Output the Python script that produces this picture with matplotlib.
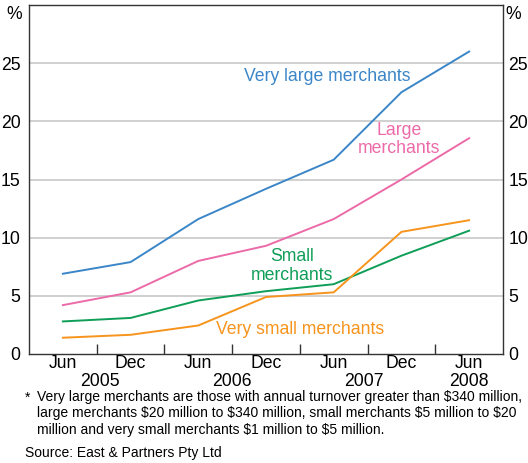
import matplotlib
matplotlib.use('Agg')
import matplotlib.pyplot as plt
import matplotlib.transforms as mtransforms

plt.rcParams['font.family'] = ['Liberation Sans', 'DejaVu Sans']

# half-year observations, Jun 2005 to Jun 2008
periods = ['Jun', 'Dec', 'Jun', 'Dec', 'Jun', 'Dec', 'Jun']
years = ['2005', '2006', '2007', '2008']
year_pos = [0.55, 2.5, 4.45, 6.0]

very_large = [6.9, 7.9, 11.6, 14.2, 16.7, 22.5, 26.0]
large = [4.2, 5.3, 8.0, 9.3, 11.6, 15.0, 18.55]
small = [2.8, 3.1, 4.6, 5.4, 6.0, 8.45, 10.6]
very_small = [1.4, 1.65, 2.45, 4.9, 5.3, 10.5, 11.5]

c_vl = '#3a86c8'
c_l = '#ec6aa8'
c_s = '#0f9e57'
c_vs = '#f7941d'

fs = 12.7
x = list(range(len(periods)))

fig = plt.figure(figsize=(5.28, 4.63), dpi=100)
ax = fig.add_axes([29/528, 109/463, 474/528, 349/463])

for yv in [5, 10, 15, 20, 25]:
    ax.axhline(yv, color='#c8c8c8', lw=1.2, zorder=0)

ax.plot(x, very_large, color=c_vl, lw=1.4)
ax.plot(x, large, color=c_l, lw=1.4)
ax.plot(x, small, color=c_s, lw=1.4)
ax.plot(x, very_small, color=c_vs, lw=1.4)

ax.set_xlim(-0.5, 6.5)
ax.set_ylim(0, 30)
ax.set_yticks([0, 5, 10, 15, 20, 25])
ax.tick_params(axis='y', length=0, labelsize=fs, pad=6)
ax.set_xticks([0.5, 1.5, 2.5, 3.5, 4.5, 5.5])
ax.set_xticklabels([])
ax.tick_params(axis='x', direction='in', length=7, width=1, color='#333333')
for s in ax.spines.values():
    s.set_color('#333333')
    s.set_linewidth(1)

ax2 = ax.twinx()
ax2.set_ylim(0, 30)
ax2.set_yticks([0, 5, 10, 15, 20, 25])
ax2.tick_params(axis='y', length=0, labelsize=fs, pad=4)
for s in ax2.spines.values():
    s.set_visible(False)

ax.text(-0.015, 29.15, '%', transform=mtransforms.blended_transform_factory(ax.transAxes, ax.transData),
        ha='right', va='center', fontsize=fs)
ax.text(1.006, 29.15, '%', transform=mtransforms.blended_transform_factory(ax.transAxes, ax.transData),
        ha='left', va='center', fontsize=fs)

trans = mtransforms.blended_transform_factory(ax.transData, fig.transFigure)
for xi, p in zip(x, periods):
    ax.text(xi, 1 - 364/463, p, transform=trans, ha='center', va='center', fontsize=fs)
for xp, yr in zip(year_pos, years):
    ax.text(xp, 1 - 382/463, yr, transform=trans, ha='center', va='center', fontsize=fs)

ax.text(3.9, 23.85, 'Very large merchants', color=c_vl, ha='center', va='center', fontsize=fs)
ax.text(4.97, 18.45, 'Large\nmerchants', color=c_l, ha='center', va='center', fontsize=fs, linespacing=1.1)
ax.text(3.38, 7.57, 'Small\nmerchants', color=c_s, ha='center', va='center', fontsize=fs, linespacing=1.1)
ax.text(3.5, 2.14, 'Very small merchants', color=c_vs, ha='center', va='center', fontsize=fs)

fig.text(25/528, 1 - 398/463, '*', fontsize=10, ha='left', va='center')
fig.text(37/528, 1 - 390/463,
         'Very large merchants are those with annual turnover greater than \\$340 million,\n'
         'large merchants \\$20 million to \\$340 million, small merchants \\$5 million to \\$20\n'
         'million and very small merchants \\$1 million to \\$5 million.',
         fontsize=10, ha='left', va='top', linespacing=1.22)
fig.text(25/528, 1 - 453/463, 'Source: East & Partners Pty Ltd', fontsize=10, ha='left', va='center')

fig.savefig('out.png', dpi=100)
